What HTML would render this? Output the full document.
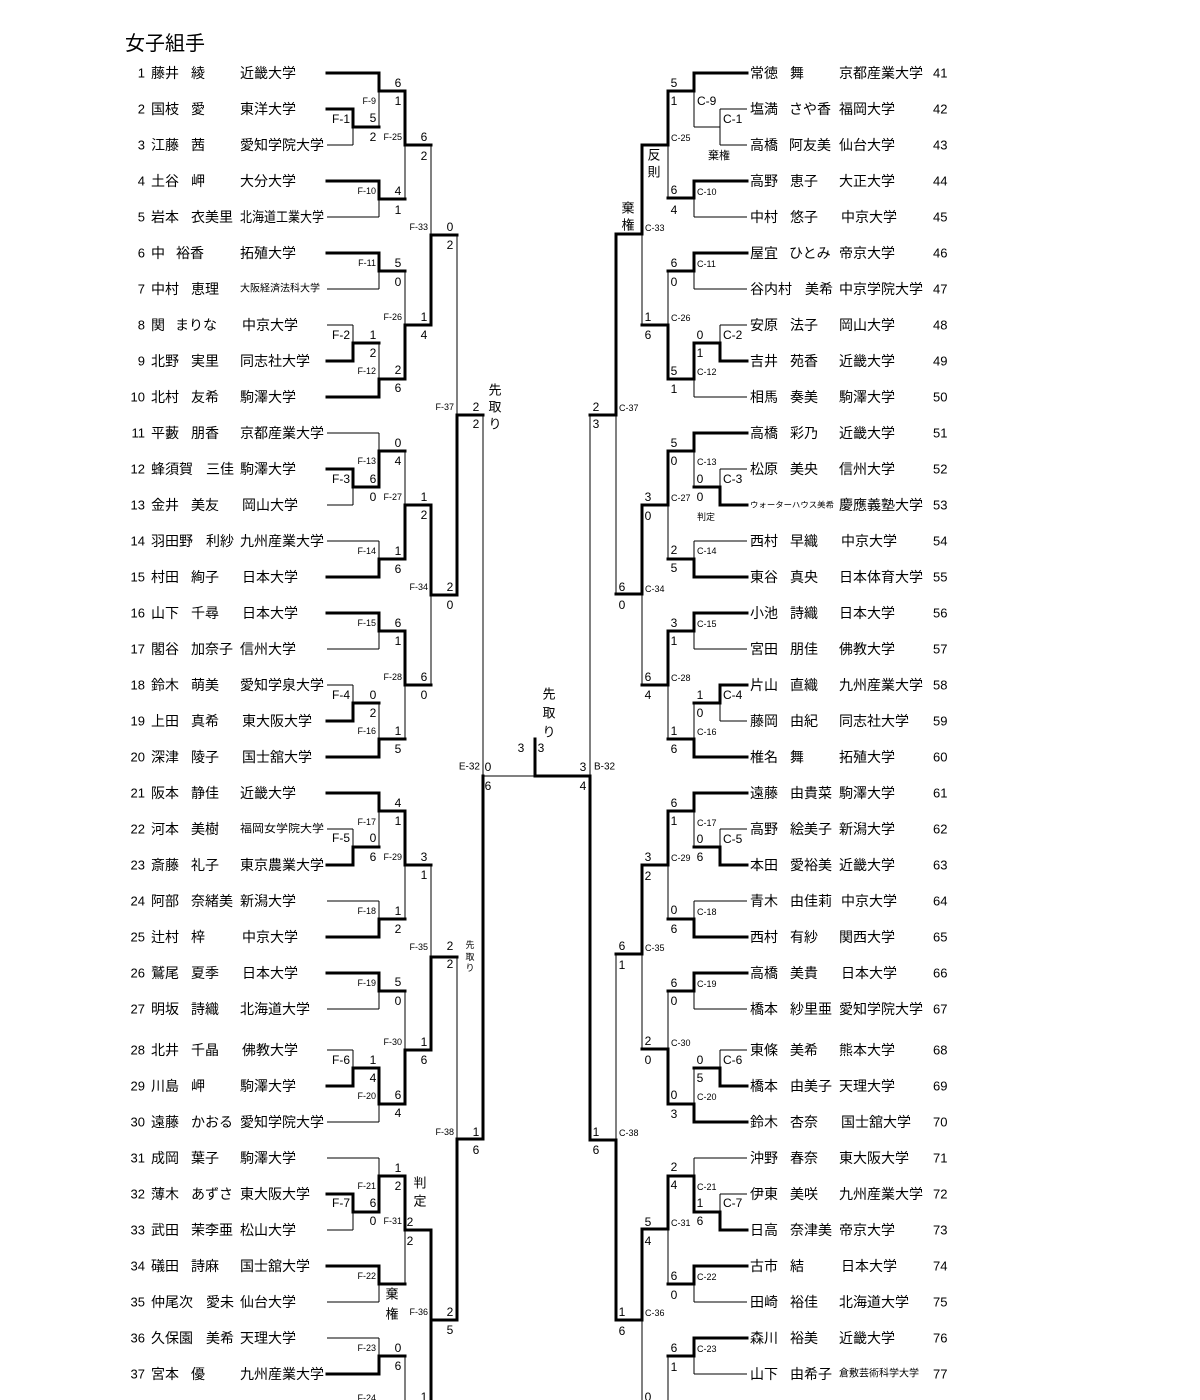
<!DOCTYPE html>
<html><head><meta charset="utf-8"><style>
html,body{margin:0;padding:0;background:#fff;}
svg{display:block}
text{dominant-baseline:central;fill:#000;font-family:"Liberation Sans","Noto Sans CJK JP",sans-serif;}
.n{font-size:14px}
.num{font-size:13px;text-anchor:end}
.rn{font-size:13px}
.s{font-size:12px;text-anchor:middle}
.l{font-size:9px;text-anchor:end}
.lp{font-size:12px;text-anchor:end}
.r{font-size:9px}
.rp{font-size:12px}
.v{font-size:13px;text-anchor:middle}
</style></head><body>
<svg width="1200" height="1400" viewBox="0 0 1200 1400" xmlns="http://www.w3.org/2000/svg">
<rect width="1200" height="1400" fill="#fff"/>
<text x="125" y="44" style="font-size:20px">女子組手</text>

<path fill="none" stroke="#000" stroke-width="1" d="
M327 145H353 M327 217H379 M327 289H379 M327 325H353 M327 433H379 M327 505H353 M327 541H379 M327 649H379 M327 685H353
M327 829H353 M327 901H379 M327 1009H379 M327 1050H353 M327 1122H379 M327 1158H379 M327 1230H353 M327 1302H379 M327 1338H379
M353 127V145 M379 91V127 M379 199V217 M405 145V199 M379 271V289 M353 325V343 M379 343V379 M405 271V325 M431 145V235
M353 487V505 M379 433V451 M379 541V559 M405 451V505 M379 631V649 M353 685V703 M379 703V739 M405 685V739 M431 595V685 M457 235V415
M353 829V847 M379 811V847 M379 901V919 M405 865V919 M379 991V1009 M353 1050V1068 M379 1104V1122 M405 991V1050 M431 865V957
M353 1212V1230 M379 1158V1176 M379 1284V1302 M405 1230V1284 M379 1338V1356 M405 1356V1400 M457 957V1139
M483 415V776 M483 776H535 M590 415V776
M747 109H720 M747 145H720 M720 109V145 M720 127H694 M694 91V127 M668 145V198
M747 217H694 M694 198V217 M747 289H694 M694 271V289
M747 325H720 M720 325V343 M747 397H694 M694 379V397 M668 271V325 M642 234V325 M616 415V595
M747 469H720 M720 469V487 M694 451V487 M747 541H694 M694 541V559 M668 505V559 M747 649H694 M694 631V649 M747 721H720 M720 703V721 M694 703V739 M668 685V739 M642 594V685
M616 954V1140 M642 954V1049 M747 829H720 M720 829V847 M694 811V847 M747 901H694 M694 901V919 M668 865V919 M747 1009H694 M694 991V1009 M747 1050H720 M720 1050V1068 M694 1068V1104 M668 991V1049
M642 1320V1400 M747 1158H694 M694 1158V1176 M747 1194H720 M720 1194V1212 M668 1230V1284 M694 1284V1302 M747 1302H694 M747 1374H694 M694 1356V1374 M668 1356V1400
"/>
<path fill="none" stroke="#000" stroke-width="3" stroke-linecap="square" d="
M327 73H379V91H405V145H431
M327 109H353V127H379
M327 181H379V199H405
M327 253H379V271H405
M327 361H353V343H379
M327 397H379V379H405V325H431V235H457
M327 469H353V487H379V451H405
M327 577H379V559H405V505H431V595H457V415H483
M327 613H379V631H405V685H431
M327 721H353V703H379
M327 757H379V739H405
M327 793H379V811H405V865H431
M327 865H353V847H379
M327 937H379V919H405
M327 973H379V991H405
M327 1086H353V1068H379V1104H405V1050H431V957H457
M327 1194H353V1212H379V1176H405V1230H431V1320H457V1139H483V776
M327 1266H379V1284H405
M327 1374H379V1356H405
M431 1320V1400
M535 739V776H590V1140H616V1320H642V1229H668V1176H694V1212H720V1230H747
M747 73H694V91H668V145H642V234H616V415H590
M747 181H694V198H668
M747 253H694V271H668
M747 361H720V343H694V379H668V325H642
M747 433H694V451H668V505H642V594H616
M747 505H720V487H694
M747 577H694V559H668
M747 613H694V631H668V685H642
M747 685H720V703H694
M747 757H694V739H668
M747 793H694V811H668V865H642V954H616
M747 865H720V847H694
M747 937H694V919H668
M747 973H694V991H668
M747 1086H720V1068H694
M747 1122H694V1104H668V1049H642
M747 1266H694V1284H668
M747 1338H694V1356H668
"/>

<!-- Left names -->
<g class="n">
<text class="num" x="145" y="73">1</text><text x="151" y="73">藤井</text><text x="191" y="73">綾</text><text x="240" y="73">近畿大学</text>
<text class="num" x="145" y="109">2</text><text x="151" y="109">国枝</text><text x="191" y="109">愛</text><text x="240" y="109">東洋大学</text>
<text class="num" x="145" y="145">3</text><text x="151" y="145">江藤</text><text x="191" y="145">茜</text><text x="240" y="145" textLength="84" lengthAdjust="spacingAndGlyphs">愛知学院大学</text>
<text class="num" x="145" y="181">4</text><text x="151" y="181">土谷</text><text x="191" y="181">岬</text><text x="240" y="181">大分大学</text>
<text class="num" x="145" y="217">5</text><text x="151" y="217">岩本</text><text x="191" y="217">衣美里</text><text x="240" y="217" textLength="84" lengthAdjust="spacingAndGlyphs">北海道工業大学</text>
<text class="num" x="145" y="253">6</text><text x="151" y="253">中</text><text x="176" y="253">裕香</text><text x="240" y="253">拓殖大学</text>
<text class="num" x="145" y="289">7</text><text x="151" y="289">中村</text><text x="191" y="289">恵理</text><text x="240" y="289" style="font-size:10px" textLength="80" lengthAdjust="spacingAndGlyphs">大阪経済法科大学</text>
<text class="num" x="145" y="325">8</text><text x="151" y="325">関</text><text x="175" y="325">まりな</text><text x="242" y="325">中京大学</text>
<text class="num" x="145" y="361">9</text><text x="151" y="361">北野</text><text x="191" y="361">実里</text><text x="240" y="361">同志社大学</text>
<text class="num" x="145" y="397">10</text><text x="151" y="397">北村</text><text x="191" y="397">友希</text><text x="240" y="397">駒澤大学</text>
<text class="num" x="145" y="433">11</text><text x="151" y="433">平藪</text><text x="191" y="433">朋香</text><text x="240" y="433" textLength="84" lengthAdjust="spacingAndGlyphs">京都産業大学</text>
<text class="num" x="145" y="469">12</text><text x="151" y="469">蜂須賀</text><text x="206" y="469">三佳</text><text x="240" y="469">駒澤大学</text>
<text class="num" x="145" y="505">13</text><text x="151" y="505">金井</text><text x="191" y="505">美友</text><text x="242" y="505">岡山大学</text>
<text class="num" x="145" y="541">14</text><text x="151" y="541">羽田野</text><text x="206" y="541">利紗</text><text x="240" y="541" textLength="84" lengthAdjust="spacingAndGlyphs">九州産業大学</text>
<text class="num" x="145" y="577">15</text><text x="151" y="577">村田</text><text x="191" y="577">絢子</text><text x="242" y="577">日本大学</text>
<text class="num" x="145" y="613">16</text><text x="151" y="613">山下</text><text x="191" y="613">千尋</text><text x="242" y="613">日本大学</text>
<text class="num" x="145" y="649">17</text><text x="151" y="649">閣谷</text><text x="191" y="649">加奈子</text><text x="240" y="649">信州大学</text>
<text class="num" x="145" y="685">18</text><text x="151" y="685">鈴木</text><text x="191" y="685">萌美</text><text x="240" y="685" textLength="84" lengthAdjust="spacingAndGlyphs">愛知学泉大学</text>
<text class="num" x="145" y="721">19</text><text x="151" y="721">上田</text><text x="191" y="721">真希</text><text x="242" y="721">東大阪大学</text>
<text class="num" x="145" y="757">20</text><text x="151" y="757">深津</text><text x="191" y="757">陵子</text><text x="242" y="757">国士舘大学</text>
<text class="num" x="145" y="793">21</text><text x="151" y="793">阪本</text><text x="191" y="793">静佳</text><text x="240" y="793">近畿大学</text>
<text class="num" x="145" y="829">22</text><text x="151" y="829">河本</text><text x="191" y="829">美樹</text><text x="240" y="829" style="font-size:11px" textLength="84" lengthAdjust="spacingAndGlyphs">福岡女学院大学</text>
<text class="num" x="145" y="865">23</text><text x="151" y="865">斎藤</text><text x="191" y="865">礼子</text><text x="240" y="865" textLength="84" lengthAdjust="spacingAndGlyphs">東京農業大学</text>
<text class="num" x="145" y="901">24</text><text x="151" y="901">阿部</text><text x="191" y="901">奈緒美</text><text x="240" y="901">新潟大学</text>
<text class="num" x="145" y="937">25</text><text x="151" y="937">辻村</text><text x="191" y="937">梓</text><text x="242" y="937">中京大学</text>
<text class="num" x="145" y="973">26</text><text x="151" y="973">鷲尾</text><text x="191" y="973">夏季</text><text x="242" y="973">日本大学</text>
<text class="num" x="145" y="1009">27</text><text x="151" y="1009">明坂</text><text x="191" y="1009">詩織</text><text x="240" y="1009">北海道大学</text>
<text class="num" x="145" y="1050">28</text><text x="151" y="1050">北井</text><text x="191" y="1050">千晶</text><text x="242" y="1050">佛教大学</text>
<text class="num" x="145" y="1086">29</text><text x="151" y="1086">川島</text><text x="191" y="1086">岬</text><text x="240" y="1086">駒澤大学</text>
<text class="num" x="145" y="1122">30</text><text x="151" y="1122">遠藤</text><text x="191" y="1122">かおる</text><text x="240" y="1122" textLength="84" lengthAdjust="spacingAndGlyphs">愛知学院大学</text>
<text class="num" x="145" y="1158">31</text><text x="151" y="1158">成岡</text><text x="191" y="1158">葉子</text><text x="240" y="1158">駒澤大学</text>
<text class="num" x="145" y="1194">32</text><text x="151" y="1194">薄木</text><text x="191" y="1194">あずさ</text><text x="240" y="1194">東大阪大学</text>
<text class="num" x="145" y="1230">33</text><text x="151" y="1230">武田</text><text x="191" y="1230">茉李亜</text><text x="240" y="1230">松山大学</text>
<text class="num" x="145" y="1266">34</text><text x="151" y="1266">礒田</text><text x="191" y="1266">詩麻</text><text x="240" y="1266">国士舘大学</text>
<text class="num" x="145" y="1302">35</text><text x="151" y="1302">仲尾次</text><text x="206" y="1302">愛未</text><text x="240" y="1302">仙台大学</text>
<text class="num" x="145" y="1338">36</text><text x="151" y="1338">久保園</text><text x="206" y="1338">美希</text><text x="240" y="1338">天理大学</text>
<text class="num" x="145" y="1374">37</text><text x="151" y="1374">宮本</text><text x="191" y="1374">優</text><text x="240" y="1374" textLength="84" lengthAdjust="spacingAndGlyphs">九州産業大学</text>
</g>

<!-- Right names -->
<g class="n">
<text x="750" y="73">常徳</text><text x="790" y="73">舞</text><text x="839" y="73" textLength="84" lengthAdjust="spacingAndGlyphs">京都産業大学</text><text class="rn" x="933" y="73">41</text>
<text x="750" y="109">塩満</text><text x="789" y="109">さや香</text><text x="839" y="109">福岡大学</text><text class="rn" x="933" y="109">42</text>
<text x="750" y="145">高橋</text><text x="789" y="145">阿友美</text><text x="839" y="145">仙台大学</text><text class="rn" x="933" y="145">43</text>
<text x="750" y="181">高野</text><text x="790" y="181">恵子</text><text x="839" y="181">大正大学</text><text class="rn" x="933" y="181">44</text>
<text x="750" y="217">中村</text><text x="790" y="217">悠子</text><text x="841" y="217">中京大学</text><text class="rn" x="933" y="217">45</text>
<text x="750" y="253">屋宜</text><text x="789" y="253">ひとみ</text><text x="839" y="253">帝京大学</text><text class="rn" x="933" y="253">46</text>
<text x="750" y="289">谷内村</text><text x="805" y="289">美希</text><text x="839" y="289" textLength="84" lengthAdjust="spacingAndGlyphs">中京学院大学</text><text class="rn" x="933" y="289">47</text>
<text x="750" y="325">安原</text><text x="790" y="325">法子</text><text x="839" y="325">岡山大学</text><text class="rn" x="933" y="325">48</text>
<text x="750" y="361">吉井</text><text x="790" y="361">苑香</text><text x="839" y="361">近畿大学</text><text class="rn" x="933" y="361">49</text>
<text x="750" y="397">相馬</text><text x="790" y="397">奏美</text><text x="839" y="397">駒澤大学</text><text class="rn" x="933" y="397">50</text>
<text x="750" y="433">高橋</text><text x="790" y="433">彩乃</text><text x="839" y="433">近畿大学</text><text class="rn" x="933" y="433">51</text>
<text x="750" y="469">松原</text><text x="790" y="469">美央</text><text x="839" y="469">信州大学</text><text class="rn" x="933" y="469">52</text>
<text x="750" y="505" style="font-size:8px" textLength="84" lengthAdjust="spacingAndGlyphs">ウォーターハウス美希</text><text x="839" y="505" textLength="84" lengthAdjust="spacingAndGlyphs">慶應義塾大学</text><text class="rn" x="933" y="505">53</text>
<text x="750" y="541">西村</text><text x="790" y="541">早織</text><text x="841" y="541">中京大学</text><text class="rn" x="933" y="541">54</text>
<text x="750" y="577">東谷</text><text x="790" y="577">真央</text><text x="839" y="577" textLength="84" lengthAdjust="spacingAndGlyphs">日本体育大学</text><text class="rn" x="933" y="577">55</text>
<text x="750" y="613">小池</text><text x="790" y="613">詩織</text><text x="839" y="613">日本大学</text><text class="rn" x="933" y="613">56</text>
<text x="750" y="649">宮田</text><text x="790" y="649">朋佳</text><text x="839" y="649">佛教大学</text><text class="rn" x="933" y="649">57</text>
<text x="750" y="685">片山</text><text x="790" y="685">直織</text><text x="839" y="685" textLength="84" lengthAdjust="spacingAndGlyphs">九州産業大学</text><text class="rn" x="933" y="685">58</text>
<text x="750" y="721">藤岡</text><text x="790" y="721">由紀</text><text x="839" y="721">同志社大学</text><text class="rn" x="933" y="721">59</text>
<text x="750" y="757">椎名</text><text x="790" y="757">舞</text><text x="839" y="757">拓殖大学</text><text class="rn" x="933" y="757">60</text>
<text x="750" y="793">遠藤</text><text x="790" y="793">由貴菜</text><text x="839" y="793">駒澤大学</text><text class="rn" x="933" y="793">61</text>
<text x="750" y="829">高野</text><text x="790" y="829">絵美子</text><text x="839" y="829">新潟大学</text><text class="rn" x="933" y="829">62</text>
<text x="750" y="865">本田</text><text x="790" y="865">愛裕美</text><text x="839" y="865">近畿大学</text><text class="rn" x="933" y="865">63</text>
<text x="750" y="901">青木</text><text x="790" y="901">由佳莉</text><text x="841" y="901">中京大学</text><text class="rn" x="933" y="901">64</text>
<text x="750" y="937">西村</text><text x="790" y="937">有紗</text><text x="839" y="937">関西大学</text><text class="rn" x="933" y="937">65</text>
<text x="750" y="973">高橋</text><text x="790" y="973">美貴</text><text x="841" y="973">日本大学</text><text class="rn" x="933" y="973">66</text>
<text x="750" y="1009">橋本</text><text x="790" y="1009">紗里亜</text><text x="839" y="1009" textLength="84" lengthAdjust="spacingAndGlyphs">愛知学院大学</text><text class="rn" x="933" y="1009">67</text>
<text x="750" y="1050">東條</text><text x="790" y="1050">美希</text><text x="839" y="1050">熊本大学</text><text class="rn" x="933" y="1050">68</text>
<text x="750" y="1086">橋本</text><text x="790" y="1086">由美子</text><text x="839" y="1086">天理大学</text><text class="rn" x="933" y="1086">69</text>
<text x="750" y="1122">鈴木</text><text x="790" y="1122">杏奈</text><text x="841" y="1122">国士舘大学</text><text class="rn" x="933" y="1122">70</text>
<text x="750" y="1158">沖野</text><text x="790" y="1158">春奈</text><text x="839" y="1158">東大阪大学</text><text class="rn" x="933" y="1158">71</text>
<text x="750" y="1194">伊東</text><text x="790" y="1194">美咲</text><text x="839" y="1194" textLength="84" lengthAdjust="spacingAndGlyphs">九州産業大学</text><text class="rn" x="933" y="1194">72</text>
<text x="750" y="1230">日高</text><text x="790" y="1230">奈津美</text><text x="839" y="1230">帝京大学</text><text class="rn" x="933" y="1230">73</text>
<text x="750" y="1266">古市</text><text x="790" y="1266">結</text><text x="841" y="1266">日本大学</text><text class="rn" x="933" y="1266">74</text>
<text x="750" y="1302">田崎</text><text x="790" y="1302">裕佳</text><text x="839" y="1302">北海道大学</text><text class="rn" x="933" y="1302">75</text>
<text x="750" y="1338">森川</text><text x="790" y="1338">裕美</text><text x="839" y="1338">近畿大学</text><text class="rn" x="933" y="1338">76</text>
<text x="750" y="1374">山下</text><text x="790" y="1374">由希子</text><text x="839" y="1374" style="font-size:10px" textLength="80" lengthAdjust="spacingAndGlyphs">倉敷芸術科学大学</text><text class="rn" x="933" y="1374">77</text>
</g>

<!-- Left scores -->
<g class="s">
<text x="398" y="83">6</text><text x="398" y="101">1</text><text x="373" y="118">5</text><text x="373" y="137">2</text><text x="424" y="137">6</text><text x="424" y="156">2</text>
<text x="398" y="191">4</text><text x="398" y="210">1</text><text x="450" y="227">0</text><text x="450" y="245">2</text><text x="398" y="263">5</text><text x="398" y="282">0</text>
<text x="424" y="317">1</text><text x="424" y="335">4</text><text x="373" y="335">1</text><text x="373" y="353">2</text><text x="398" y="370">2</text><text x="398" y="388">6</text>
<text x="476" y="407">2</text><text x="476" y="424">2</text>
<text x="398" y="443">0</text><text x="398" y="461">4</text><text x="373" y="479">6</text><text x="373" y="497">0</text><text x="424" y="497">1</text><text x="424" y="515">2</text>
<text x="398" y="551">1</text><text x="398" y="569">6</text><text x="450" y="587">2</text><text x="450" y="605">0</text><text x="398" y="623">6</text><text x="398" y="641">1</text>
<text x="424" y="677">6</text><text x="424" y="695">0</text><text x="373" y="695">0</text><text x="373" y="713">2</text><text x="398" y="731">1</text><text x="398" y="749">5</text>
<text x="488" y="767">0</text><text x="488" y="786">6</text><text x="521" y="748">3</text><text x="541" y="748">3</text><text x="583" y="767">3</text><text x="583" y="786">4</text>
<text x="398" y="803">4</text><text x="398" y="821">1</text><text x="373" y="838">0</text><text x="373" y="857">6</text><text x="424" y="857">3</text><text x="424" y="875">1</text>
<text x="398" y="911">1</text><text x="398" y="929">2</text><text x="450" y="946">2</text><text x="450" y="964">2</text><text x="398" y="982">5</text><text x="398" y="1001">0</text>
<text x="424" y="1042">1</text><text x="424" y="1060">6</text><text x="373" y="1060">1</text><text x="373" y="1078">4</text><text x="398" y="1095">6</text><text x="398" y="1113">4</text>
<text x="476" y="1132">1</text><text x="476" y="1150">6</text>
<text x="398" y="1168">1</text><text x="398" y="1186">2</text><text x="373" y="1203">6</text><text x="373" y="1221">0</text><text x="410" y="1222">2</text><text x="410" y="1241">2</text>
<text x="450" y="1312">2</text><text x="450" y="1330">5</text><text x="398" y="1348">0</text><text x="398" y="1366">6</text><text x="424" y="1397">1</text>
</g>
<!-- Right scores -->
<g class="s">
<text x="674" y="83">5</text><text x="674" y="101">1</text><text x="674" y="190">6</text><text x="674" y="210">4</text><text x="674" y="263">6</text><text x="674" y="282">0</text>
<text x="700" y="335">0</text><text x="700" y="353">1</text><text x="674" y="371">5</text><text x="674" y="389">1</text><text x="648" y="317">1</text><text x="648" y="335">6</text>
<text x="596" y="407">2</text><text x="596" y="424">3</text>
<text x="674" y="443">5</text><text x="674" y="461">0</text><text x="700" y="479">0</text><text x="700" y="497">0</text><text x="674" y="550">2</text><text x="674" y="568">5</text>
<text x="648" y="497">3</text><text x="648" y="516">0</text><text x="622" y="587">6</text><text x="622" y="605">0</text><text x="674" y="623">3</text><text x="674" y="641">1</text>
<text x="700" y="695">1</text><text x="700" y="713">0</text><text x="674" y="731">1</text><text x="674" y="749">6</text><text x="648" y="677">6</text><text x="648" y="695">4</text>
<text x="674" y="803">6</text><text x="674" y="821">1</text><text x="700" y="839">0</text><text x="700" y="857">6</text><text x="674" y="910">0</text><text x="674" y="929">6</text>
<text x="648" y="857">3</text><text x="648" y="876">2</text><text x="622" y="946">6</text><text x="622" y="965">1</text><text x="674" y="983">6</text><text x="674" y="1001">0</text>
<text x="700" y="1060">0</text><text x="700" y="1078">5</text><text x="674" y="1095">0</text><text x="674" y="1114">3</text><text x="648" y="1041">2</text><text x="648" y="1060">0</text>
<text x="596" y="1132">1</text><text x="596" y="1150">6</text>
<text x="674" y="1167">2</text><text x="674" y="1185">4</text><text x="700" y="1203">1</text><text x="700" y="1221">6</text><text x="674" y="1276">6</text><text x="674" y="1295">0</text>
<text x="648" y="1222">5</text><text x="648" y="1241">4</text><text x="622" y="1312">1</text><text x="622" y="1331">6</text><text x="674" y="1348">6</text><text x="674" y="1367">1</text><text x="648" y="1397">0</text>
</g>

<!-- Left labels -->
<text class="lp" x="350" y="119">F-1</text><text class="l" x="376" y="101">F-9</text><text class="l" x="402" y="137">F-25</text>
<text class="l" x="376" y="191">F-10</text><text class="l" x="428" y="227">F-33</text><text class="l" x="376" y="263">F-11</text>
<text class="l" x="402" y="317">F-26</text><text class="lp" x="350" y="335">F-2</text><text class="l" x="376" y="371">F-12</text>
<text class="l" x="454" y="407">F-37</text><text class="l" x="376" y="461">F-13</text><text class="lp" x="350" y="479">F-3</text>
<text class="l" x="402" y="497">F-27</text><text class="l" x="376" y="551">F-14</text><text class="l" x="428" y="587">F-34</text>
<text class="l" x="376" y="623">F-15</text><text class="l" x="402" y="677">F-28</text><text class="lp" x="350" y="695">F-4</text>
<text class="l" x="376" y="731">F-16</text><text class="l" x="480" y="767" style="font-size:10px">E-32</text>
<text class="l" x="376" y="822">F-17</text><text class="lp" x="350" y="838">F-5</text><text class="l" x="402" y="857">F-29</text>
<text class="l" x="376" y="911">F-18</text><text class="l" x="428" y="947">F-35</text><text class="l" x="376" y="983">F-19</text>
<text class="l" x="402" y="1042">F-30</text><text class="lp" x="350" y="1060">F-6</text><text class="l" x="376" y="1096">F-20</text>
<text class="l" x="454" y="1132">F-38</text><text class="l" x="376" y="1186">F-21</text><text class="lp" x="350" y="1203">F-7</text>
<text class="l" x="402" y="1221">F-31</text><text class="l" x="376" y="1276">F-22</text><text class="l" x="428" y="1312">F-36</text>
<text class="l" x="376" y="1348">F-23</text><text class="l" x="376" y="1398">F-24</text>

<!-- Right labels -->
<text class="rp" x="697" y="101">C-9</text><text class="rp" x="723" y="119">C-1</text><text class="r" x="671" y="138">C-25</text>
<text class="r" x="697" y="192">C-10</text><text class="r" x="645" y="228">C-33</text><text class="r" x="697" y="264">C-11</text>
<text class="rp" x="723" y="335">C-2</text><text class="r" x="671" y="318">C-26</text><text class="r" x="697" y="372">C-12</text>
<text class="r" x="619" y="408">C-37</text><text class="r" x="697" y="462">C-13</text><text class="rp" x="723" y="479">C-3</text>
<text class="r" x="671" y="498">C-27</text><text class="r" x="697" y="551">C-14</text><text class="r" x="645" y="589">C-34</text>
<text class="r" x="697" y="624">C-15</text><text class="r" x="671" y="678">C-28</text><text class="rp" x="723" y="695">C-4</text>
<text class="r" x="697" y="732">C-16</text><text class="r" x="594" y="767" style="font-size:10px">B-32</text>
<text class="r" x="697" y="823">C-17</text><text class="rp" x="723" y="839">C-5</text><text class="r" x="697" y="912">C-18</text>
<text class="r" x="671" y="858">C-29</text><text class="r" x="645" y="948">C-35</text><text class="r" x="697" y="984">C-19</text>
<text class="r" x="671" y="1043">C-30</text><text class="rp" x="723" y="1060">C-6</text><text class="r" x="697" y="1097">C-20</text>
<text class="r" x="619" y="1133">C-38</text><text class="r" x="697" y="1187">C-21</text><text class="rp" x="723" y="1203">C-7</text>
<text class="r" x="697" y="1277">C-22</text><text class="r" x="671" y="1223">C-31</text><text class="r" x="645" y="1313">C-36</text>
<text class="r" x="697" y="1349">C-23</text>

<!-- Vertical notes -->
<g class="v">
<text x="495" y="390">先</text><text x="495" y="407">取</text><text x="495" y="424">り</text>
<text x="549" y="694">先</text><text x="549" y="713">取</text><text x="549" y="732">り</text>
<text x="420" y="1183">判</text><text x="420" y="1201">定</text>
<text x="392" y="1294">棄</text><text x="392" y="1314">権</text>
<text x="654" y="155">反</text><text x="654" y="172">則</text>
<text x="628" y="208">棄</text><text x="628" y="225">権</text>
</g>
<g class="v" style="font-size:9px">
<text x="470" y="945">先</text><text x="470" y="957">取</text><text x="470" y="968">り</text>
</g>
<text x="708" y="156" style="font-size:11px">棄権</text>
<text x="697" y="517" style="font-size:9px">判定</text>
</svg>
</body></html>
